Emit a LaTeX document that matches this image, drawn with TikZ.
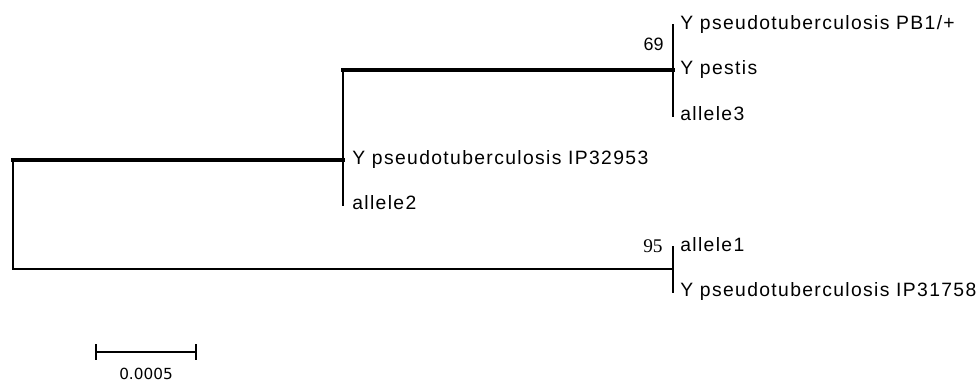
\documentclass[tikz,border=0pt]{standalone}
\usepackage{fontspec}
\setmainfont{Liberation Sans}
\newfontfamily\taxonfont[LetterSpace=7]{Liberation Sans}
\newfontfamily\serifnum{Liberation Serif}
\newfontfamily\barfont{DejaVu Sans}
\usetikzlibrary{positioning}

\begin{document}
\begin{tikzpicture}[
        x=0.02cm, y=-0.02cm,
        taxon/.style={anchor=base west, inner sep=0pt, font=\taxonfont\fontsize{11}{13}\selectfont},
        support/.style={anchor=base east, inner sep=0pt, font=\fontsize{10.2}{12}\selectfont},
        branch/.style={line width=1.3pt, line cap=rect, black},
        heavy/.style={line width=1.9pt, line cap=rect, black},
        scalebar/.style={line width=1.2pt, black},
    ]
        \useasboundingbox (0,0) rectangle (976,383);

        % Internal nodes
        \coordinate (nroot) at (13,214);
        \coordinate (nmid) at (343,160);
        \coordinate (ntop) at (673,70);
        \coordinate (nbot) at (673,269);

        % Tips
        \coordinate (tpb) at (673,25);
        \coordinate (tpes) at (673,70);
        \coordinate (tal3) at (673,116);
        \coordinate (tip32) at (343,160);
        \coordinate (tal2) at (343,205);
        \coordinate (tal1) at (673,247);
        \coordinate (tip31) at (673,292);

        % Taxon labels
        \node[taxon] (pb) at ([shift={(7,4)}]tpb) {Y pseudotuberculosis PB1/+};
        \node[taxon] (pes) at ([shift={(7,4)}]tpes) {Y pestis};
        \node[taxon] (al3) at ([shift={(7,4)}]tal3) {allele3};
        \node[taxon] (ip32) at ([shift={(9,4)}]tip32) {Y pseudotuberculosis IP32953};
        \node[taxon] (al2) at ([shift={(9,4)}]tal2) {allele2};
        \node[taxon] (al1) at ([shift={(7,4)}]tal1) {allele1};
        \node[taxon] (ip31) at ([shift={(7,4)}]tip31) {Y pseudotuberculosis IP31758};

        % Branches
        \draw[branch] (nroot |- nmid) -- (nroot |- nbot);
        \draw[heavy] (nroot |- nmid) -- (nmid);
        \draw[branch] (nroot |- nbot) -- (nbot);
        \draw[branch] (nmid |- ntop) -- (tal2);
        \draw[heavy] (nmid |- ntop) -- (ntop);
        \draw[branch] (tpb) -- (tal3);
        \draw[branch] (tal1) -- (tip31);

        % Bootstrap values
        \node[support] (bs69) at (664,50) {69};
        \node[support, font=\serifnum\fontsize{11}{13}\selectfont] (bs95) at (663,252) {95};

        % Scale bar
        \coordinate (sbl) at (96,352);
        \coordinate (sbr) at (196,352);
        \draw[scalebar] (sbl) -- (sbr);
        \draw[scalebar] (sbl) ++(0,-8) -- ++(0,16);
        \draw[scalebar] (sbr) ++(0,-8) -- ++(0,16);
        \node[anchor=base, inner sep=0pt, font=\barfont\fontsize{8.7}{10}\selectfont] (sblab) at (146,379) {0.0005};
    \end{tikzpicture}
\end{document}
